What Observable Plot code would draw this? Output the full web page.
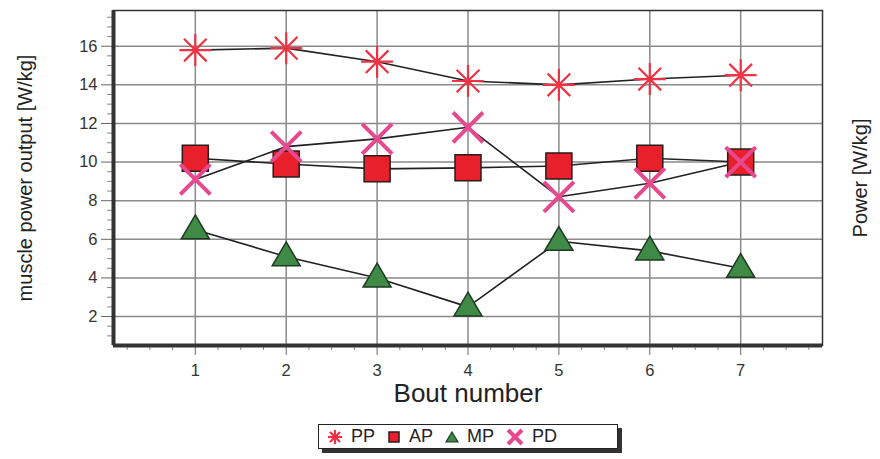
<!DOCTYPE html>
<html>
<head>
<meta charset="utf-8">
<script src="https://cdn.jsdelivr.net/npm/d3@7"></script>
<script src="https://cdn.jsdelivr.net/npm/@observablehq/plot@0.6"></script>
<style>
  body { margin: 0; background: #fff; font-family: "Liberation Sans", Arial, sans-serif; }
  #wrap { position: relative; width: 880px; height: 459px; }
  #legend { position: absolute; left: 318px; top: 424px; width: 300px; height: 25px;
    border: 1.5px solid #222; background: #fff; box-shadow: 4px 4px 0 #333;
    display: flex; align-items: center; font-size: 18px; color: #222; padding-left: 8px; box-sizing: border-box; }
  #legend span.item { display: inline-flex; align-items: center; margin-right: 12px; }
  #legend svg { margin-right: 8px; }
</style>
</head>
<body>
<div id="wrap"><div id="chart"></div><div id="legend"></div></div>
<script>
const bouts = [1, 2, 3, 4, 5, 6, 7];
const seriesNames = ["PP", "AP", "MP", "PD"];
const pp = [15.8, 15.9, 15.2, 14.2, 14.0, 14.3, 14.5];
const ap = [10.2, 9.9, 9.65, 9.7, 9.8, 10.2, 10.0];
const mp = [6.5, 5.1, 4.0, 2.5, 5.9, 5.4, 4.5];
const pd = [9.1, 10.8, 11.2, 11.8, 8.2, 8.9, 10.0];
const yTicks = [2, 4, 6, 8, 10, 12, 14, 16];
const xTicks = [1, 2, 3, 4, 5, 6, 7];

const valuesBySeries = {PP: pp, AP: ap, MP: mp, PD: pd};
const data = seriesNames.flatMap(s => bouts.map((b, i) => ({series: s, bout: b, value: valuesBySeries[s][i]})));

const rad = size => Math.sqrt(size / Math.PI);
const asterisk8 = {draw(c, size) { const r = rad(size);
  for (const a of [0, 45, 90, 135]) { const t = a * Math.PI / 180;
    c.moveTo(-r * Math.cos(t), -r * Math.sin(t)); c.lineTo(r * Math.cos(t), r * Math.sin(t)); } }};
const squareSym = {draw(c, size) { const r = rad(size); c.moveTo(-r, -r); c.lineTo(r, -r); c.lineTo(r, r); c.lineTo(-r, r); c.closePath(); }};
const triSym = {draw(c, size) { const r = rad(size); c.moveTo(0, -r * 1.05); c.lineTo(r, r * 0.65); c.lineTo(-r, r * 0.65); c.closePath(); }};
const timesSym = {draw(c, size) { const r = rad(size) * 0.75;
  c.moveTo(-r, -r); c.lineTo(r, r); c.moveTo(r, -r); c.lineTo(-r, r); }};

const xDom = [0.1, 7.9], yDom = [0.5, 17.85];
const minorY = d3.range(1, 17.8, 0.5).filter(v => v % 2 !== 0);
const minorX = d3.range(0.25, 7.9, 0.25).filter(v => !Number.isInteger(v));

const plot = Plot.plot({
  width: 880, height: 410,
  marginLeft: 113, marginRight: 58, marginTop: 10, marginBottom: 65,
  style: {fontFamily: "'Liberation Sans', Arial, sans-serif", background: "#fff"},
  x: {type: "linear", domain: xDom, axis: null},
  y: {type: "linear", domain: yDom, axis: null},
  marks: [
    Plot.gridX(xTicks, {stroke: "#8a8a8a", strokeOpacity: 1, strokeWidth: 1.5}),
    Plot.gridY(yTicks, {stroke: "#8a8a8a", strokeOpacity: 1, strokeWidth: 1.5}),
    Plot.frame({stroke: "#333", strokeWidth: 1.5}),
    Plot.axisY(yTicks, {tickSize: 12, stroke: "#666", tickFormat: () => "", label: null}),
    Plot.axisY(minorY, {tickSize: 6, stroke: "#888", tickFormat: () => "", label: null}),
    Plot.axisX(xTicks, {tickSize: 10, stroke: "#666", tickFormat: () => "", label: null}),
    Plot.axisX(minorX, {tickSize: 5, stroke: "#888", tickFormat: () => "", label: null}),
    Plot.text(yTicks, {x: () => xDom[0], y: d => d, text: d => String(d), dx: -16, textAnchor: "end", fontSize: 16.5, fill: "#333"}),
    Plot.text(xTicks, {x: d => d, y: () => yDom[0], text: d => String(d), dy: 25, fontSize: 16.5, fill: "#333"}),
    Plot.ruleX([xDom[0]], {stroke: "#333", strokeWidth: 4}),
    Plot.ruleY([yDom[0]], {stroke: "#333", strokeWidth: 4}),
    Plot.line(data, {x: "bout", y: "value", z: "series", stroke: "#222", strokeWidth: 1.6}),
    Plot.dot(data.filter(d => d.series === "AP"), {x: "bout", y: "value", symbol: squareSym, r: 13, fill: "#e8202c", stroke: "#2a1a1a", strokeWidth: 1.5}),
    Plot.dot(data.filter(d => d.series === "MP"), {x: "bout", y: "value", symbol: triSym, r: 14, fill: "#3f8a47", stroke: "#1e3a22", strokeWidth: 1.5}),
    Plot.dot(data.filter(d => d.series === "PP"), {x: "bout", y: "value", symbol: asterisk8, r: 16, fill: "none", stroke: "#ee3344", strokeWidth: 2.2}),
    Plot.dot(data.filter(d => d.series === "PD"), {x: "bout", y: "value", symbol: timesSym, r: 20, fill: "none", stroke: "#e8488e", strokeWidth: 4}),
    Plot.text(["muscle power output [W/kg]"], {frameAnchor: "left", textAnchor: "middle", lineAnchor: "middle", dx: -88, rotate: -90, fontSize: 20, fill: "#222"}),
    Plot.text(["Power [W/kg]"], {frameAnchor: "right", textAnchor: "middle", lineAnchor: "middle", dx: 38, rotate: -90, fontSize: 20, fill: "#222"}),
    Plot.text(["Bout number"], {frameAnchor: "bottom", textAnchor: "middle", lineAnchor: "middle", dy: 48, fontSize: 26, fill: "#222"})
  ]
});
document.getElementById("chart").appendChild(plot);

// legend
const legendSyms = {
  PP: `<svg width="16" height="16" viewBox="-8 -8 16 16"><g stroke="#ee3344" stroke-width="2.2"><line x1="-7" y1="0" x2="7" y2="0"/><line x1="0" y1="-7" x2="0" y2="7"/><line x1="-5" y1="-5" x2="5" y2="5"/><line x1="5" y1="-5" x2="-5" y2="5"/></g></svg>`,
  AP: `<svg width="14" height="14" viewBox="-7 -7 14 14"><rect x="-5" y="-5" width="10" height="10" fill="#e8202c" stroke="#2a1a1a" stroke-width="1.5"/></svg>`,
  MP: `<svg width="14" height="14" viewBox="-7 -7 14 14"><path d="M0,-5L6,5L-6,5Z" fill="#3f8a47" stroke="#1e3a22" stroke-width="1.2"/></svg>`,
  PD: `<svg width="18" height="18" viewBox="-9 -9 18 18"><g stroke="#e8488e" stroke-width="4"><line x1="-7" y1="-7" x2="7" y2="7"/><line x1="7" y1="-7" x2="-7" y2="7"/></g></svg>`
};
document.getElementById("legend").innerHTML = seriesNames.map(s => `<span class="item">${legendSyms[s]}${s}</span>`).join("");
</script>
</body>
</html>
